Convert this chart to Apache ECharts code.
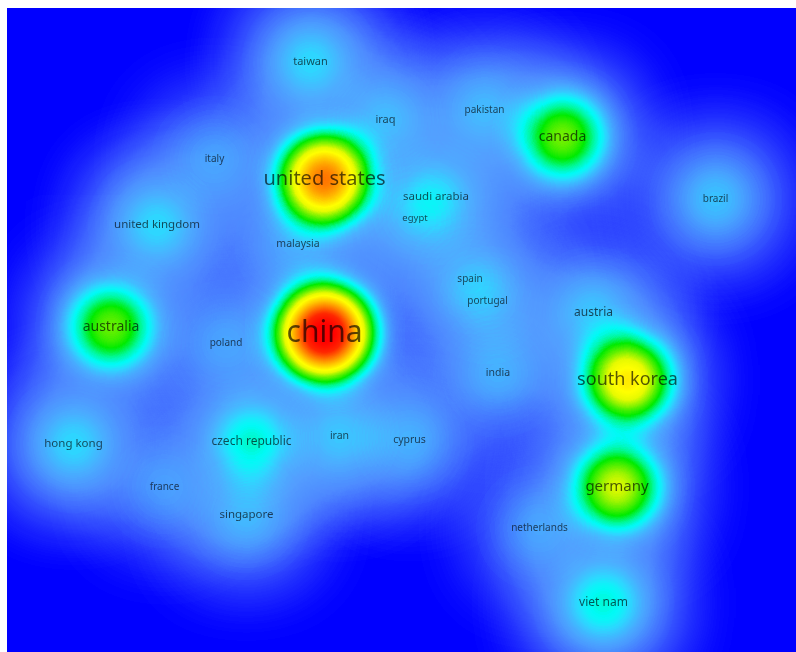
<!DOCTYPE html>
<html><head><meta charset="utf-8">
<script src="https://cdn.jsdelivr.net/npm/echarts@6/dist/echarts.min.js"></script>
<style>html,body{margin:0;padding:0;background:#ffffff}#c{width:796px;height:652px}</style>
</head><body><div id="c"></div>
<script>
// ---- data: items of the density map (map coordinates, weights) ----
const countries = ['china','united states','south korea','canada','germany','australia',
  'taiwan','czech republic','viet nam','hong kong','austria','saudi arabia','united kingdom',
  'iran','singapore','iraq','pakistan','italy','egypt','brazil','malaysia','spain','portugal',
  'poland','india','cyprus','france','netherlands'];
const mapX = [324.5,324.5,627.5,562.5,617,111,
  310.5,251.5,603.5,73.5,593.5,436,157,
  339.5,246.5,385.5,484.5,214.5,415,715.5,298,470,487.5,
  226,498,409.5,164.5,539.5];
const mapY = [333,179,380,137,487,327,
  62,442,603,444,313,197,225,
  436,515,120,110,159,218,199,244,279,301,
  343,373,440,487,528];
const weights = [1.0,0.70,0.50,0.33,0.40,0.32,
  0.11,0.17,0.16,0.11,0.09,0.10,0.11,
  0.09,0.08,0.08,0.08,0.06,0.05,0.09,0.06,0.06,0.06,
  0.06,0.07,0.07,0.05,0.06];

// ---- style ----
const labelSizes = [30,20,18,14,15,14,
  11,12,12,11.5,12,11.5,11.5,
  10.5,11.5,11,10,10,9.5,10,10.5,10,10,
  10,10.5,10.5,10,10];
// halo layer (broad kernel) and core layer (narrow kernel)
const HALO_PEAK = 0.39, CORE_PEAK = 0.74;
const haloStops = [
  [0.00,[0,0,255,1]],[0.10,[20,28,255,1]],[0.25,[42,62,255,1]],[0.45,[62,100,255,1]],
  [0.70,[78,135,255,1]],[1.00,[84,155,255,1]],[1.60,[82,172,255,1]],[3.00,[78,185,255,1]]];
const coreStops = [
  [0.00,[82,172,255,1]],[0.06,[65,200,255,1]],[0.11,[35,230,255,1]],[0.15,[0,250,245,1]],
  [0.20,[0,248,150,1]],[0.26,[0,235,0,1]],[0.33,[100,240,0,1]],[0.42,[230,250,0,1]],
  [0.48,[255,255,0,1]],[0.60,[255,190,0,1]],[0.72,[255,120,0,1]],[0.85,[255,40,0,1]],
  [1.00,[255,0,0,1]],[3.0,[255,0,0,1]]];
function ramp(stops, peak){
  const out=[];
  for(let i=0;i<=255;i++){
    const d=Math.min(i/255/peak, stops[stops.length-1][0]);
    let col=stops[stops.length-1][1];
    for(let k=1;k<stops.length;k++){
      const [p1,c1]=stops[k-1],[p2,c2]=stops[k];
      if(d<=p2){const t=(d-p1)/(p2-p1); col=c1.map((v,j)=>v+(c2[j]-v)*t); break;}
    }
    out.push('rgba('+Math.round(col[0])+','+Math.round(col[1])+','+Math.round(col[2])+','+col[3]+')');
  }
  return out;
}

echarts.registerMap('vos',{type:'FeatureCollection',features:[{type:'Feature',
  properties:{name:'area'},geometry:{type:'Polygon',
  coordinates:[[[7,-8],[796,-8],[796,-652],[7,-652],[7,-8]]]}}]});

const pts = countries.map((n,i)=>[mapX[i],-mapY[i],weights[i]]);
const chart = echarts.init(document.getElementById('c'));
chart.setOption({
  backgroundColor:'#ffffff',
  animation:false,
  geo:{map:'vos',left:7,top:8,width:789,height:644,aspectScale:1,silent:true,roam:false,
    label:{show:false},itemStyle:{areaColor:'#0000ff',borderWidth:0,borderColor:'#0000ff'},
    emphasis:{disabled:true}},
  visualMap:[
    {type:'continuous',show:false,min:0,max:0.12,seriesIndex:0,inRange:{color:ramp(haloStops,HALO_PEAK)}},
    {type:'continuous',show:false,min:0,max:1,seriesIndex:1,inRange:{color:ramp(coreStops,CORE_PEAK)}}],
  series:[
    {type:'heatmap',coordinateSystem:'geo',geoIndex:0,pointSize:44,blurSize:88,z:2,
     minOpacity:1,maxOpacity:1,silent:true,data:pts},
    {type:'heatmap',coordinateSystem:'geo',geoIndex:0,pointSize:36,blurSize:44,z:3,
     minOpacity:0,maxOpacity:1/(0.14*CORE_PEAK),silent:true,data:pts},
    {type:'scatter',coordinateSystem:'geo',geoIndex:0,symbolSize:1,silent:true,z:10,
     itemStyle:{color:'rgba(0,0,0,0)'},
     label:{show:true,position:'inside',formatter:'{b}',color:'rgba(0,0,0,0.82)',
       fontFamily:'Noto Sans'},
     data:countries.map((n,i)=>({name:n,value:[mapX[i],-mapY[i]],label:{fontSize:labelSizes[i]}}))}
  ]
});
</script></body></html>
